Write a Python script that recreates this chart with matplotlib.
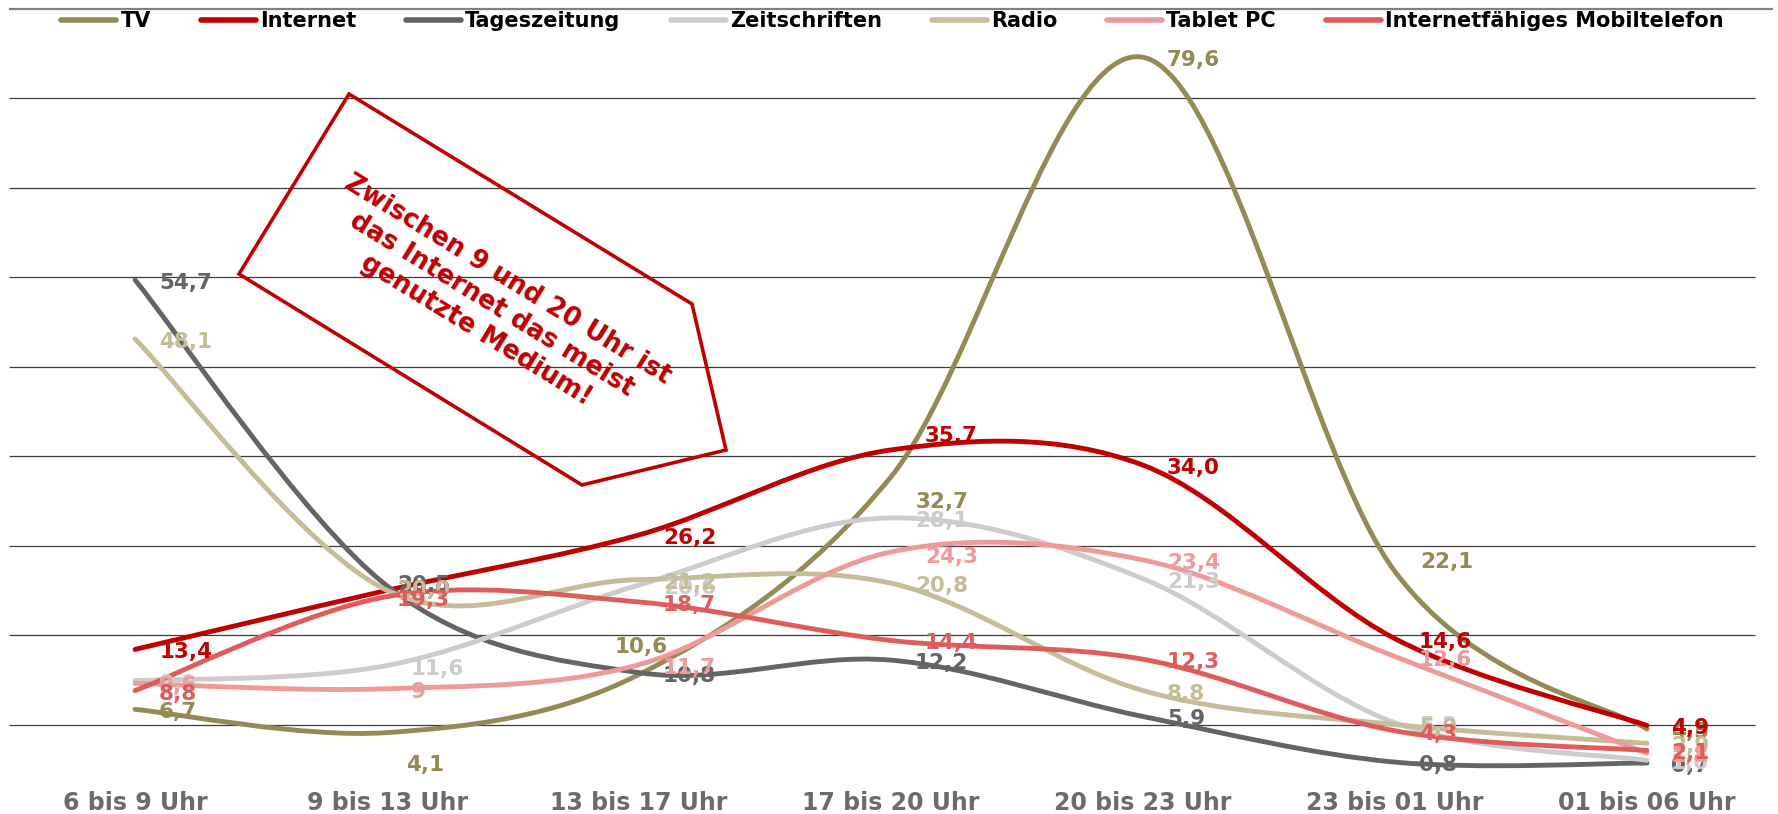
import matplotlib
matplotlib.use('Agg')
import matplotlib.pyplot as plt
from matplotlib.path import Path
from matplotlib.patches import PathPatch, Polygon

plt.rcParams['font.family'] = ['DejaVu Sans']
plt.rcParams['font.weight'] = 'bold'

categories = ['6 bis 9 Uhr', '9 bis 13 Uhr', '13 bis 17 Uhr', '17 bis 20 Uhr',
              '20 bis 23 Uhr', '23 bis 01 Uhr', '01 bis 06 Uhr']
tv = [6.7, 4.1, 10.6, 32.7, 79.6, 22.1, 4.5]
internet = [13.4, 20.0, 26.2, 35.7, 34.0, 14.6, 4.9]
tageszeitung = [54.7, 20.5, 10.8, 12.2, 5.9, 0.8, 0.7]
zeitschriften = [9.9, 11.6, 20.6, 28.1, 21.3, 5.2, 1.0]
radio = [48.1, 20.0, 21.2, 20.8, 8.8, 5.0, 2.9]
tablet = [9.6, 9, 11.7, 24.3, 23.4, 12.6, 1.8]
mobil = [8.8, 19.3, 18.7, 14.4, 12.3, 4.3, 2.1]

series = [
    ('TV', tv, '#948A54'),
    ('Internet', internet, '#C00000'),
    ('Tageszeitung', tageszeitung, '#646464'),
    ('Zeitschriften', zeitschriften, '#CCCCCC'),
    ('Radio', radio, '#C4BD97'),
    ('Tablet PC', tablet, '#EE9A9A'),
    ('Internetfähiges Mobiltelefon', mobil, '#E05C5C'),
]

# label offsets in pixels (dx right, dy down) where they differ from the default
label_moves = {
    ('TV', 1): (19, 32), ('TV', 2): (-24, -27), ('TV', 3): (25, 25),
    ('TV', 5): (25, -10), ('Internet', 1): (10, 0), ('Internet', 3): (34, -14),
    ('Tageszeitung', 1): (10, -1), ('Radio', 1): (10, 0),
    ('Internetfähiges Mobiltelefon', 1): (10, 3),
    ('Tablet PC', 3): (34, 5), ('Internetfähiges Mobiltelefon', 3): (34, 3),
}


def smooth_path(xs, ys):
    # excel-like smoothed line: cubic bezier with catmull-rom tangents
    n = len(xs)
    verts = [(xs[0], ys[0])]
    codes = [Path.MOVETO]
    for i in range(n - 1):
        p0 = max(i - 1, 0)
        p3 = min(i + 2, n - 1)
        c1 = (xs[i] + (xs[i + 1] - xs[p0]) / 6, ys[i] + (ys[i + 1] - ys[p0]) / 6)
        c2 = (xs[i + 1] - (xs[p3] - xs[i]) / 6, ys[i + 1] - (ys[p3] - ys[i]) / 6)
        verts += [c1, c2, (xs[i + 1], ys[i + 1])]
        codes += [Path.CURVE4] * 3
    return Path(verts, codes)


def fmt(v):
    if isinstance(v, int):
        return str(v)
    return f'{v:.1f}'.replace('.', ',')


fig = plt.figure(figsize=(17.78, 8.14), dpi=100)
ax = fig.add_axes([0, 0, 1, 1])
ax.set_xlim(-0.536, 6.52)
ax.set_ylim(-5, 86)
ax.axis('off')

for y in range(5, 85, 10):
    ax.hlines(y, -0.5, 6.43, color='#3c3c3c', lw=0.9, zorder=1)
ax.hlines(85, -0.5, 6.5, color='#808080', lw=1.6, zorder=1)

x = list(range(len(categories)))
for name, vals, col in series:
    ax.add_patch(PathPatch(smooth_path(x, vals), fill=False, edgecolor=col,
                           lw=3.5, capstyle='round', joinstyle='round', zorder=3))
    ax.plot([], [], color=col, lw=4, solid_capstyle='round', label=name)

for name, vals, col in series:
    for i, v in enumerate(vals):
        dx, dy = label_moves.get((name, i), (24, 3))
        ax.annotate(fmt(v), (i, v), xytext=(dx, -dy), textcoords='offset pixels',
                    ha='left', va='center', fontsize=15.5, fontweight='bold',
                    color=col, zorder=5)

for i, c in enumerate(categories):
    ax.text(i, -3.8, c, ha='center', va='center', fontsize=17,
            fontweight='bold', color='#6B6B6B')

ax.legend(loc='center', bbox_to_anchor=(0.502, 0.9736), ncol=7, frameon=False,
          prop={'size': 15, 'weight': 'bold'}, handlelength=2.64,
          handletextpad=0.2, columnspacing=2.4)

# callout shape with the note
W, H = 1778, 814
shape = [(349, 94), (692, 304), (726, 450), (582, 485), (239, 274)]
fig.patches.append(Polygon([(px / W, 1 - py / H) for px, py in shape], closed=True,
                           fill=False, edgecolor='#C00000', lw=2.6,
                           transform=fig.transFigure, zorder=6))
fig.text(492 / W, 1 - 305 / H, 'Zwischen 9 und 20 Uhr ist\ndas Internet das meist\ngenutzte Medium!',
         rotation=-31.5, rotation_mode='anchor', ha='center', va='center',
         multialignment='center', fontsize=18.5, fontweight='bold', color='#C00000',
         linespacing=1.2)

fig.savefig('out.png', dpi=100)
plt.close(fig)
